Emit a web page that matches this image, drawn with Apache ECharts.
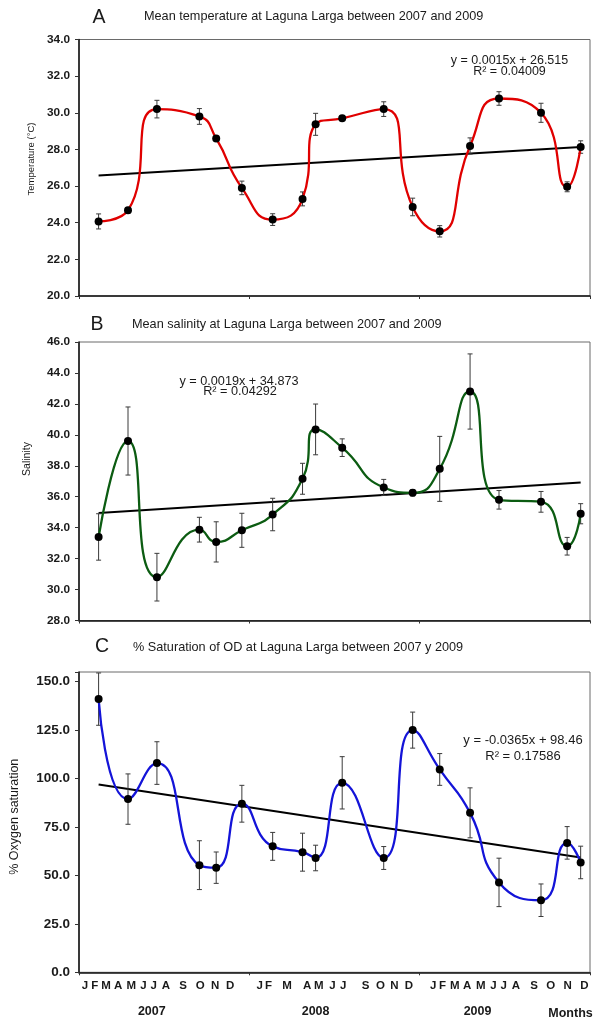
<!DOCTYPE html>
<html><head><meta charset="utf-8">
<script src="https://cdn.jsdelivr.net/npm/echarts@6/dist/echarts.min.js"></script>
<style>html,body{margin:0;padding:0;background:#fff}#c{width:595px;height:1021px}</style>
</head><body><div id="c"></div>
<script>
// sampling dates, days since 1 Jan 2007
const sampleDays = [42,105,167,258,294,349,415,479,507,564,653,715,773,838,900,990,1046,1075];
const tempMean = [24.07,24.68,30.2,29.8,28.6,25.9,24.17,25.3,29.37,29.7,30.2,24.86,23.53,28.19,30.78,30.0,25.96,28.13];
const tempErr  = [0.41,0.15,0.48,0.43,0.1,0.37,0.32,0.38,0.6,0.1,0.4,0.48,0.31,0.44,0.37,0.52,0.27,0.34];
const salMean  = [33.4,39.6,30.8,33.87,33.08,33.83,34.85,37.16,40.35,39.17,36.6,36.25,37.8,42.8,35.8,35.67,32.8,34.9];
const salErr   = [1.5,2.2,1.54,0.8,1.3,1.1,1.05,1.0,1.64,0.57,0.52,0.2,2.1,2.43,0.6,0.67,0.57,0.65];
const oxyMean  = [141,89.4,108,55.3,54,87,65,62,59,97.8,59,125,104.7,82.3,46.4,37.2,66.8,56.7];
const oxyErr   = [13.5,13,11,12.6,8.1,9.5,7.2,9.8,6.6,13.5,5.9,9.3,8.2,12.9,12.5,8.4,8.4,8.4];
const trendA = [[42,26.58],[1075,28.13]];
const trendB = [[42,34.95],[1075,36.92]];
const trendC = [[42,96.93],[1075,59.22]];
const monthLetters = ['J','F','M','A','M','J','J','A','S','O','N','D',
                      'J','F','M','A','M','J','J','S','O','N','D',
                      'J','F','M','A','M','J','J','A','S','O','N','D'];
const monthDays = [13,34,58,84,112,138,160,186,223,260,292,324,
                   387,406,446,489,514,543,566,614,646,676,707,
                   759,779,805,832,861,888,910,936,975,1011,1047,1083];
const yearLabels = ['2007','2008','2009'];
const yearDays = [156,507,854];
const titles = ['Mean temperature at Laguna Larga between 2007 and 2009',
                'Mean salinity at Laguna Larga between 2007 and 2009',
                '% Saturation of OD at Laguna Larga between 2007 y 2009'];
const eqText = [['y = 0.0015x + 26.515','R² = 0.04009'],
                ['y = 0.0019x + 34.873','R² = 0.04292'],
                ['y = -0.0365x + 98.46','R² = 0.17586']];
const yNames = ['Temperature (°C)','Salinity','% Oxygen saturation'];

const FF = '"Liberation Sans", Arial, Helvetica, sans-serif';
const monthMap = new Map(monthDays.map((d,i)=>[d,monthLetters[i]]));
const yearMap = new Map(yearDays.map((d,i)=>[d,yearLabels[i]]));

function pts(vals){ return sampleDays.map((d,i)=>[d, vals[i]]); }
function errs(vals, e){ return sampleDays.map((d,i)=>[d, vals[i]-e[i], vals[i]+e[i]]); }

function errRender(params, api){
  const x = api.value(0), lo = api.value(1), hi = api.value(2);
  const a = api.coord([x, hi]), b = api.coord([x, lo]);
  const w = 2.5, st = {stroke:'#3a3a3a', lineWidth:1};
  return {type:'group', children:[
    {type:'line', shape:{x1:a[0],y1:a[1],x2:b[0],y2:b[1]}, style:st},
    {type:'line', shape:{x1:a[0]-w,y1:a[1],x2:a[0]+w,y2:a[1]}, style:st},
    {type:'line', shape:{x1:b[0]-w,y1:b[1],x2:b[0]+w,y2:b[1]}, style:st}
  ]};
}

const grids = [
  {left:79, width:511, top:39.5, height:256.5},
  {left:79, width:511, top:342, height:278.5},
  {left:79, width:511, top:672, height:300.3}
].map(g=>Object.assign(g,{show:true, borderColor:'#6a6a6a', borderWidth:1, backgroundColor:'transparent', containLabel:false, outerBoundsMode:'none'}));

const baseX = {type:'value', min:0, max:1095, interval:365,
  axisLine:{show:true, onZero:false, lineStyle:{color:'#111', width:1.5}},
  axisTick:{show:true, length:3, lineStyle:{color:'#333'}},
  splitLine:{show:false}, axisLabel:{show:false}};

const xAxes = [
  Object.assign({}, baseX, {gridIndex:0}),
  Object.assign({}, baseX, {gridIndex:1}),
  Object.assign({}, baseX, {gridIndex:2,
    axisLabel:{show:true, customValues:monthDays, hideOverlap:false, margin:8,
      formatter:v=>monthMap.get(v)||'', fontFamily:FF, fontWeight:'bold', fontSize:11.5, color:'#1a1a1a'}}),
  {type:'value', gridIndex:2, min:0, max:1095, position:'bottom',
    axisLine:{show:false}, axisTick:{show:false}, splitLine:{show:false},
    axisLabel:{show:true, customValues:yearDays, hideOverlap:false, margin:33,
      formatter:v=>yearMap.get(v)||'', fontFamily:FF, fontWeight:'bold', fontSize:12.5, color:'#1a1a1a'}}
];

function yAx(gi, min, max, interval, fs){
  return {type:'value', gridIndex:gi, min, max, interval,
    axisLine:{show:true, lineStyle:{color:'#111', width:1.5}},
    axisTick:{show:true, length:4, lineStyle:{color:'#333'}},
    splitLine:{show:false},
    axisLabel:{margin:9, fontFamily:FF, fontWeight:'bold', fontSize:fs, color:'#1a1a1a', hideOverlap:false,
      formatter:v=> (v>max-0.001 && v%interval!==0) ? '' : v.toFixed(1)}};
}
const yAxes = [yAx(0,20,34,2,11.8), yAx(1,28,46,2,11.8), yAx(2,0,155,25,13.5)];

const colors = ['#e00000','#0c5c12','#1414d8'];
const means = [tempMean, salMean, oxyMean];
const errsArr = [tempErr, salErr, oxyErr];
const trends = [trendA, trendB, trendC];
const series = [];
for (let k=0;k<3;k++){
  series.push({type:'line', xAxisIndex:k, yAxisIndex:k, data:trends[k], symbol:'none', silent:true,
    lineStyle:{color:'#000', width:2}, z:3});
  series.push({type:'custom', xAxisIndex:k, yAxisIndex:k, data:errs(means[k], errsArr[k]),
    renderItem:errRender, encode:{x:0, y:[1,2]}, z:4, silent:true});
  series.push({type:'line', xAxisIndex:k, yAxisIndex:k, data:pts(means[k]), smooth:0.55,
    symbol:'circle', symbolSize:8, showSymbol:true, itemStyle:{color:'#000'},
    lineStyle:{color:colors[k], width:2.3}, z:5, silent:true});
}

function txt(x,y,text,fs,opt){
  return {type:'text', x, y, silent:true,
    style:Object.assign({text, fontFamily:FF, fontSize:fs, fill:'#1a1a1a', align:'left', verticalAlign:'middle'}, opt||{})};
}
const graphic = [
  txt(99,18,'A',19.5,{align:'center'}), txt(144,16,titles[0],12.7),
  txt(97,325,'B',19.5,{align:'center'}), txt(132,324,titles[1],12.7),
  txt(102,647,'C',19.5,{align:'center'}), txt(133,647,titles[2],12.7),
  txt(509.5,61,eqText[0][0],12.5,{align:'center'}), txt(509.5,72,eqText[0][1],12.5,{align:'center'}),
  txt(239,381,eqText[1][0],12.7,{align:'center'}), txt(240,391.5,eqText[1][1],12.7,{align:'center'}),
  txt(523,740,eqText[2][0],13,{align:'center'}), txt(523,756,eqText[2][1],13,{align:'center'}),
  txt(570.5,1014,'Months',12.5,{align:'center', fontWeight:'bold'}),
  Object.assign(txt(31.7,159,yNames[0],9.5,{align:'center'}),{rotation:Math.PI/2}),
  Object.assign(txt(26.7,459,yNames[1],10.5,{align:'center'}),{rotation:Math.PI/2}),
  Object.assign(txt(15,816.7,yNames[2],12.5,{align:'center'}),{rotation:Math.PI/2})
];

const chart = echarts.init(document.getElementById('c'), null, {renderer:'canvas'});
chart.setOption({
  animation:false, backgroundColor:'#fff',
  grid:grids, xAxis:xAxes, yAxis:yAxes, series, graphic
});
</script></body></html>
